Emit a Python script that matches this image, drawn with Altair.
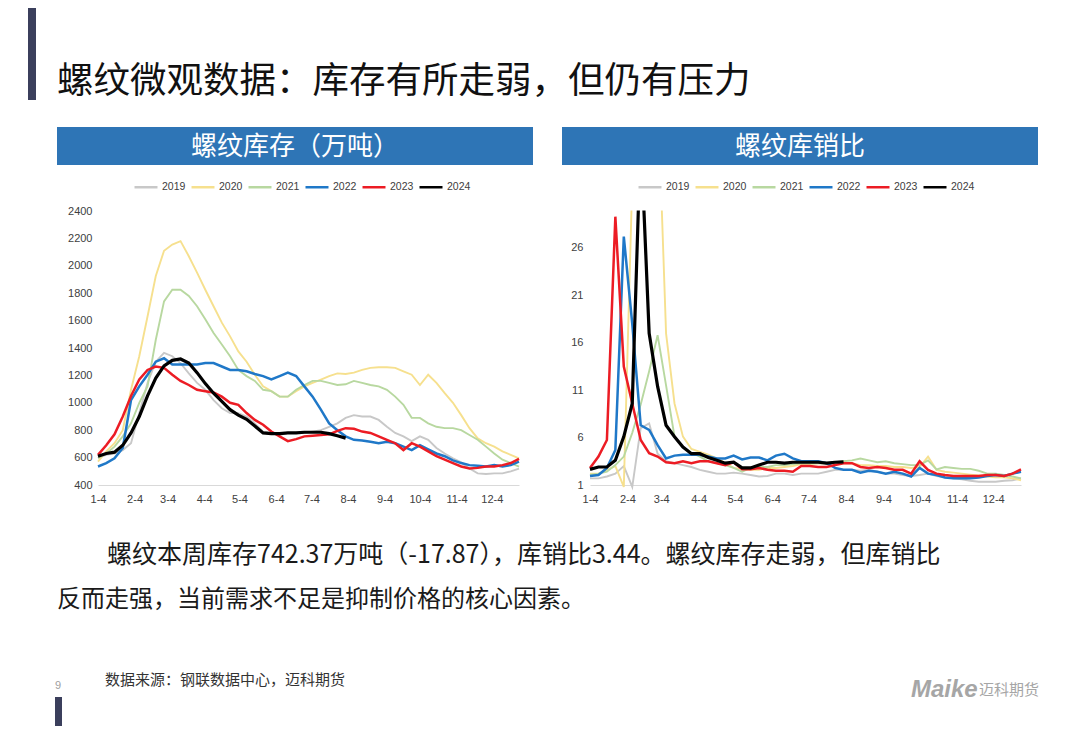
import altair as alt
import pandas as pd

# ---------------- data ----------------
years = ["2019", "2020", "2021", "2022", "2023", "2024"]
year_colors = ["#c8c8c8", "#f6e08e", "#b8d8a0", "#1f78c8", "#ec1c24", "#000000"]
year_widths = [1.9, 1.9, 1.9, 2.5, 2.5, 3.2]
month_ticks = ["1-4", "2-4", "3-4", "4-4", "5-4", "6-4", "7-4", "8-4", "9-4", "10-4", "11-4", "12-4"]
inv_ticks = [400, 600, 800, 1000, 1200, 1400, 1600, 1800, 2000, 2200, 2400]
ratio_ticks = [1, 6, 11, 16, 21, 26]

inv_2019 = [600, 620, 630, 655, 705, 925, 1145, 1300, 1365, 1340, 1290, 1215, 1145, 1095, 1020, 960, 925, 925,
            900, 850, 790, 780, 765, 780, 780, 780, 790, 800, 825, 850, 890, 910, 900, 900, 875, 825, 780, 755,
            720, 755, 730, 670, 630, 595, 565, 520, 485, 480, 485, 485, 500, 520]
inv_2020 = [570, 645, 705, 800, 1095, 1340, 1630, 1925, 2110, 2155, 2180, 2070, 1950, 1825, 1705, 1585, 1485, 1375,
            1300, 1205, 1120, 1085, 1045, 1045, 1085, 1120, 1145, 1170, 1195, 1215, 1210, 1220, 1240, 1255, 1260,
            1260, 1255, 1230, 1205, 1130, 1205, 1145, 1070, 1000, 910, 815, 740, 705, 680, 645, 620, 595]
inv_2021 = [595, 630, 680, 755, 850, 1000, 1120, 1460, 1740, 1825, 1825, 1780, 1705, 1610, 1510, 1425, 1340, 1240,
            1195, 1160, 1095, 1085, 1045, 1045, 1095, 1130, 1160, 1160, 1145, 1130, 1135, 1160, 1145, 1130, 1120,
            1095, 1045, 985, 890, 890, 850, 825, 815, 815, 800, 765, 730, 680, 630, 585, 560, 535]
inv_2022 = [535, 560, 595, 670, 1020, 1120, 1205, 1300, 1325, 1280, 1280, 1280, 1280, 1290, 1290, 1265, 1240, 1240,
            1230, 1210, 1195, 1170, 1195, 1220, 1195, 1120, 1045, 950, 850, 800, 755, 730, 725, 715, 705, 715, 705,
            680, 655, 690, 660, 630, 610, 580, 560, 545, 540, 535, 545, 535, 545, 570]
inv_2023 = [620, 690, 770, 900, 1050, 1170, 1240, 1265, 1255, 1205, 1160, 1130, 1095, 1085, 1075, 1045, 1000, 985,
            925, 875, 840, 790, 755, 720, 735, 755, 760, 765, 770, 795, 815, 810, 790, 780, 755, 730, 705, 655,
            705, 680, 645, 610, 585, 560, 535, 520, 525, 535, 535, 545, 560, 590]
inv_2024 = [610, 630, 640, 690, 780, 900, 1050, 1180, 1270, 1310, 1320, 1290, 1220, 1140, 1070, 1010, 950, 910,
            880, 830, 780, 775, 775, 780, 780, 785, 785, 785, 775, 760, 742.37]

ratio_2019 = [1.7, 1.7, 1.9, 2.2, 3.0, 0.8, 7.0, 7.5, 4.3, 3.5, 3.3, 3.1, 2.9, 2.6, 2.4, 2.2, 2.2, 2.3, 2.2, 2.05,
              1.9, 1.95, 2.2, 2.2, 2.05, 2.2, 2.2, 2.2, 2.4, 2.6, 2.6, 2.6, 2.5, 2.6, 2.4, 2.2, 2.2, 2.05, 1.95,
              2.05, 2.2, 1.95, 1.8, 1.7, 1.6, 1.45, 1.35, 1.35, 1.35, 1.45, 1.5, 1.7]
ratio_2020 = [2.2, 2.2, 2.6, 3.0, 0.8, 33, 60, 55, 43, 17, 9.6, 6.1, 4.8, 4.5, 4.2, 3.8, 3.3, 2.8, 2.7, 2.6, 2.6,
              2.8, 2.8, 2.9, 3.0, 3.2, 3.2, 3.3, 3.3, 3.4, 3.3, 3.3, 3.1, 3.1, 3.0, 3.0, 2.9, 2.9, 2.8, 2.9, 4.0,
              2.6, 2.4, 2.3, 2.2, 2.1, 2.0, 1.9, 1.8, 1.8, 1.7, 1.5]
ratio_2021 = [2.05, 2.2, 2.4, 3.1, 4.0, 6.5, 9.5, 13.0, 16.8, 11.5, 6.1, 5.0, 4.4, 4.0, 3.5, 3.3, 3.1, 2.8, 2.4,
              2.8, 2.9, 2.9, 3.1, 3.1, 3.2, 3.3, 3.3, 3.3, 3.3, 3.4, 3.5, 3.6, 3.8, 3.6, 3.4, 3.5, 3.3, 3.2, 3.1,
              3.1, 3.6, 2.65, 2.9, 2.8, 2.7, 2.7, 2.5, 2.2, 2.2, 2.05, 1.9, 1.7]
ratio_2022 = [1.95, 2.05, 2.8, 4.7, 27.2, 18.0, 7.3, 6.8, 5.2, 3.8, 4.1, 4.2, 4.2, 4.2, 4.0, 3.8, 3.8, 4.1, 3.7,
              3.9, 3.9, 3.6, 4.1, 4.3, 3.8, 3.5, 3.5, 3.5, 3.3, 2.8, 2.6, 2.6, 2.3, 2.5, 2.4, 2.2, 2.4, 2.2, 1.9,
              2.8, 2.2, 2.05, 1.8, 1.7, 1.7, 1.7, 1.8, 1.95, 2.05, 1.95, 2.2, 2.4]
ratio_2023 = [2.8, 4.0, 5.75, 29.3, 13.5, 9.6, 5.75, 4.35, 4.0, 3.4, 3.3, 3.5, 3.3, 3.5, 3.5, 3.3, 3.1, 3.4, 2.65,
              2.65, 2.8, 2.6, 2.5, 2.5, 2.4, 3.0, 3.0, 2.9, 2.9, 3.1, 3.3, 3.3, 2.9, 2.8, 2.9, 2.8, 2.6, 2.6, 2.2,
              3.5, 2.6, 2.2, 2.05, 1.95, 1.95, 1.95, 1.95, 2.05, 2.05, 1.95, 2.2, 2.65]
ratio_2024 = [2.65, 2.9, 2.9, 3.6, 6.1, 9.6, 38, 17, 11.4, 7.3, 6.1, 5.0, 4.3, 4.3, 3.9, 3.6, 3.3, 3.4, 2.8, 2.8,
              3.1, 3.4, 3.4, 3.3, 3.4, 3.4, 3.4, 3.4, 3.3, 3.4, 3.44]

title_text = "螺纹微观数据：库存有所走弱，但仍有压力"
left_header = "螺纹库存（万吨）"
right_header = "螺纹库销比"
body_line1 = "螺纹本周库存742.37万吨（-17.87），库销比3.44。螺纹库存走弱，但库销比"
body_line2 = "反而走强，当前需求不足是抑制价格的核心因素。"
source_text = "数据来源：钢联数据中心，迈科期货"
page_no = "9"
logo_latin = "Maike"
logo_cn = "迈科期货"

# ---------------- build tables ----------------
base_year = 2021
start = pd.Timestamp(f"{base_year}-01-04")


def long_table(series):
    rows = []
    for yr, vals in zip(years, series):
        for i, v in enumerate(vals):
            rows.append({"date": start + pd.Timedelta(days=7 * i), "year": yr, "value": v})
    return pd.DataFrame(rows)


inv_df = long_table([inv_2019, inv_2020, inv_2021, inv_2022, inv_2023, inv_2024])
ratio_df = long_table([ratio_2019, ratio_2020, ratio_2021, ratio_2022, ratio_2023, ratio_2024])

tick_dates = [alt.DateTime(year=base_year, month=int(t.split("-")[0]), date=int(t.split("-")[1]))
              for t in month_ticks]

# per-year line width, expressed as a condition list (one test per year)
width_encoding = {
    "condition": [{"test": f"datum.year === '{yr}'", "value": w} for yr, w in zip(years, year_widths)],
    "value": 2.0,
}

W, H = 1064, 718
AX_FONT = "Liberation Sans"
CJK = "Noto Sans CJK SC"
PLOT_BOTTOM, PLOT_TOP = 477, 203


def panel(df, x_range, y_domain, y_ticks, y_axis_x, legend_x, label_pad):
    return alt.Chart(df).mark_line(clip=False).encode(
        x=alt.X("date:T",
                scale=alt.Scale(range=x_range, nice=False),
                axis=alt.Axis(values=tick_dates, format="%-m-%-d", orient="bottom",
                              offset=PLOT_BOTTOM - H, title=None, ticks=False, grid=False,
                              domainColor="#d9d9d9", domainWidth=1, labelFlush=False,
                              labelOverlap=False, labelPadding=8, labelFont=AX_FONT,
                              labelFontSize=11, labelColor="#404040")),
        y=alt.Y("value:Q",
                scale=alt.Scale(domain=y_domain, range=[PLOT_BOTTOM, PLOT_TOP], nice=False, zero=False),
                axis=alt.Axis(values=y_ticks, format="d", orient="left", offset=-y_axis_x, title=None,
                              domain=False, ticks=False, grid=False, labelPadding=label_pad,
                              labelFont=AX_FONT, labelFontSize=11, labelColor="#404040")),
        color=alt.Color("year:N",
                        scale=alt.Scale(domain=years, range=year_colors),
                        legend=alt.Legend(orient="none", legendX=legend_x, legendY=166,
                                          direction="horizontal", title=None, symbolType="stroke",
                                          symbolSize=529, symbolStrokeWidth=2.5, labelFont=AX_FONT,
                                          labelFontSize=10.5, labelColor="#404040", labelOffset=3,
                                          columnPadding=0, padding=0)),
        strokeWidth=width_encoding,
    )


inv_lines = panel(inv_df, [90, 511], [400, 2400], inv_ticks, 90, 125, 6)
ratio_lines = panel(ratio_df, [582, 1013], [1, 29.9], ratio_ticks, 582, 629, 7)

one = pd.DataFrame({"k": [0]})


def rect(x, x2, y, y2, color):
    return alt.Chart(one).mark_rect(color=color).encode(
        x=alt.value(x), x2=alt.value(x2), y=alt.value(y), y2=alt.value(y2))


def label(text, x, y, size, color="#1a1a1a", align="left", font=CJK, weight="normal", style="normal"):
    return alt.Chart(pd.DataFrame({"t": [text]})).mark_text(
        align=align, baseline="middle", font=font, fontSize=size, color=color,
        fontWeight=weight, fontStyle=style).encode(
        text="t:N", x=alt.value(x), y=alt.value(y))


# white cover hiding the part of the right-hand lines that runs above the plot area
cover = rect(532, W, 0, PLOT_TOP - 0.5, "#ffffff")

layers = [
    inv_lines,
    ratio_lines,
    cover,
    rect(20, 28, 0, 92, "#3b3f5c"),
    rect(47, 54, 689, H, "#3b3f5c"),
    rect(49, 525, 119, 157, "#2e75b6"),
    rect(554, 1030, 119, 157, "#2e75b6"),
    label(left_header, 287, 139, 26, color="#ffffff", align="center"),
    label(right_header, 792, 139, 26, color="#ffffff", align="center"),
    label(title_text, 49, 74, 36.5, color="#111111"),
    label(body_line1, 99, 547, 25),
    label(body_line2, 49, 592, 24),
    label(source_text, 97, 672, 15, color="#333333"),
    label(page_no, 50, 678, 11, color="#a0a0a0", align="center", font=AX_FONT),
    label(logo_latin, 903, 682, 24, color="#a6a6a6", font=AX_FONT, weight="bold", style="italic"),
    label(logo_cn, 971, 682, 15, color="#a6a6a6"),
]

chart = alt.layer(*layers).resolve_scale(
    x="independent", y="independent", color="independent"
).resolve_axis(
    x="independent", y="independent"
).resolve_legend(
    color="independent"
).properties(
    width=W, height=H, autosize=alt.AutoSizeParams(type="none"), padding=0
).configure_view(stroke=None)

chart.save("out.html", embed_options={"renderer": "svg", "actions": False})
